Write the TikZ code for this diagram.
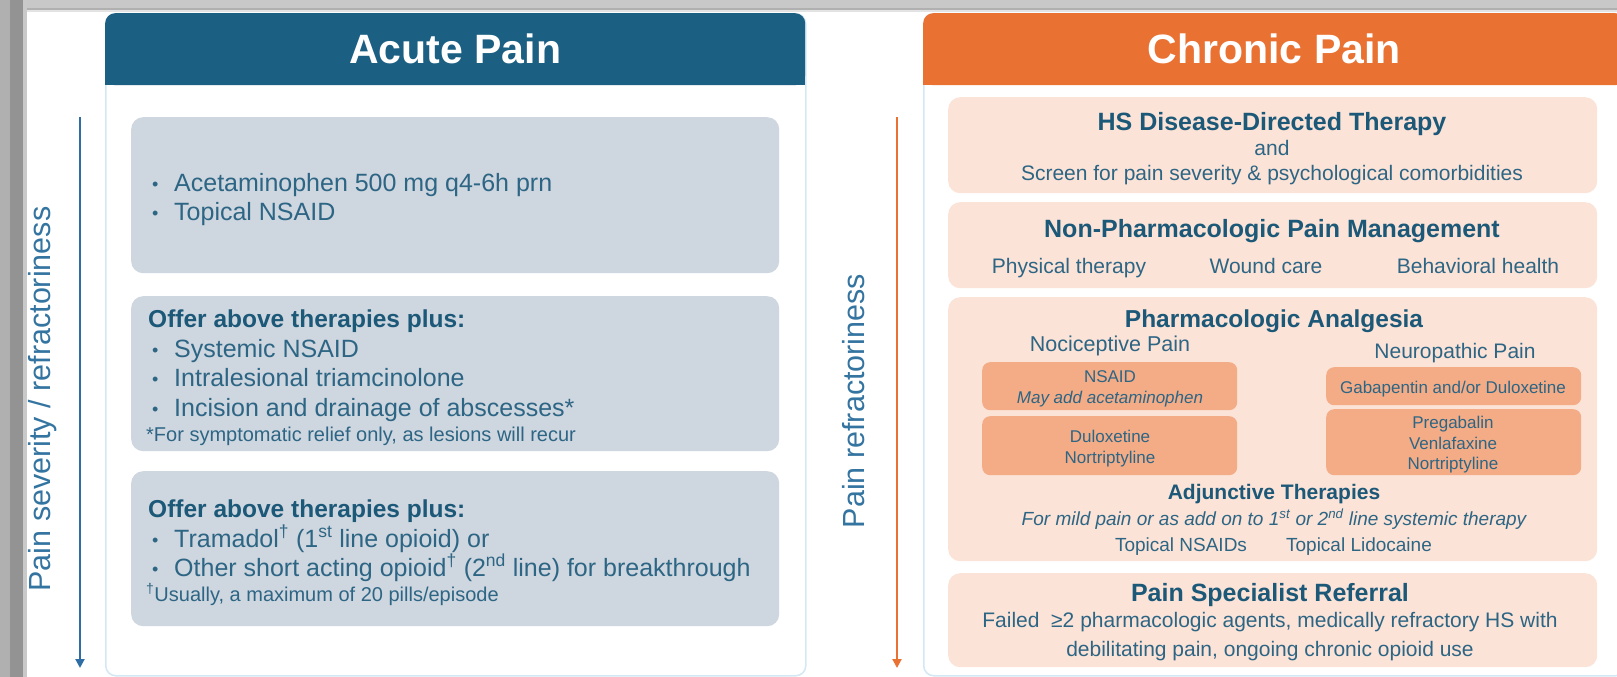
\documentclass[tikz,border=0pt]{standalone}
\usepackage{fontspec}
\setmainfont{Liberation Sans}
\usetikzlibrary{arrows.meta}
\definecolor{acuteblue}{HTML}{1B5F82}
\definecolor{chronicorange}{HTML}{E97132}
\definecolor{greybox}{HTML}{CED6DF}
\definecolor{peach}{HTML}{FCE3D7}
\definecolor{subpeach}{HTML}{F3AC86}
\definecolor{textblue}{HTML}{1C5878}
\definecolor{textreg}{HTML}{2D6584}
\definecolor{panelborder}{HTML}{D4E8F3}
\definecolor{arrowblue}{HTML}{2F6EA5}
\definecolor{labelblue}{HTML}{3474A0}
\definecolor{framelight}{HTML}{C8C8C8}
\definecolor{framemid}{HTML}{B0B0B0}
\definecolor{framedark}{HTML}{939393}
\newcommand{\fsz}[1]{\fontsize{#1}{#1}\selectfont}
\newcommand{\bul}{\makebox[22pt][l]{\fsz{18}\raisebox{1pt}{•}}}
\tikzset{
  panel/.style={draw=panelborder, line width=1.5pt, fill=white, rounded corners=10pt, inner sep=0, anchor=north west},
  hdr/.style={rounded corners=10pt, inner sep=0, anchor=north west, text=white, font=\fsz{41}\bfseries},
  gbox/.style={fill=greybox, rounded corners=12pt, inner sep=0, anchor=north west},
  pbox/.style={fill=peach, rounded corners=12pt, inner sep=0, anchor=north west},
  sbox/.style={fill=subpeach, rounded corners=8pt, inner sep=0, anchor=north west},
  txt/.style={inner sep=0, text=textreg, anchor=base west},
  ctxt/.style={inner sep=0, text=textreg, anchor=base},
  hd/.style={text=textblue, font=\fsz{25}\bfseries},
  vlab/.style={inner sep=0, rotate=90, text=labelblue, font=\fsz{30.5}},
}
\begin{document}
\begin{tikzpicture}[x=1pt,y=-1pt]
\useasboundingbox (0,0) rectangle (1617,677);
\clip (0,0) rectangle (1617,677);
\fill[white] (0,0) rectangle (1617,677);
% frame shadow
\fill[framelight] (0,0) rectangle (1617,8);
\fill[framemid] (0,8) rectangle (1617,10);
\fill[framelight!50!white] (0,10) rectangle (1617,12);
\fill[framemid] (0,0) rectangle (10,677);
\fill[framedark] (10,0) rectangle (23,677);
\fill[framedark!50!white] (23,0) rectangle (27,677);

% ---------- Acute panel ----------
\node[panel, minimum width=700, minimum height=662] (acuteP) at (105,13) {};
\fill[acuteblue] (105,70) rectangle (805,85);
\node[hdr, fill=acuteblue, minimum width=700, minimum height=72] (acuteH) at (105,13) {Acute Pain};

\node[gbox, minimum width=648, minimum height=156] (ab1) at (131,117) {};
\node[gbox, minimum width=648, minimum height=155] (ab2) at (131,296) {};
\node[gbox, minimum width=648, minimum height=155] (ab3) at (131,471) {};

\node[txt, font=\fsz{25}] (a1l1) at (152,191) {\bul Acetaminophen 500 mg q4-6h prn};
\node[txt, font=\fsz{25}] (a1l2) at (152,220) {\bul Topical NSAID};

\node[txt, hd, font=\fsz{24.5}\bfseries] (a2h) at (148,327) {Offer above therapies plus:};
\node[txt, font=\fsz{25}] (a2l1) at (152,357) {\bul Systemic NSAID};
\node[txt, font=\fsz{25}] (a2l2) at (152,386) {\bul Intralesional triamcinolone};
\node[txt, font=\fsz{25}] (a2l3) at (152,416) {\bul Incision and drainage of abscesses*};
\node[txt, font=\fsz{20}] (a2f) at (146,441) {*For symptomatic relief only, as lesions will recur};

\node[txt, hd, font=\fsz{24.5}\bfseries] (a3h) at (148,517) {Offer above therapies plus:};
\node[txt, font=\fsz{25}] (a3l1) at (152,547) {\bul Tramadol\textsuperscript{†} (1\textsuperscript{st} line opioid) or};
\node[txt, font=\fsz{25}] (a3l2) at (152,576) {\bul Other short acting opioid\textsuperscript{†} (2\textsuperscript{nd} line) for breakthrough};
\node[txt, font=\fsz{20}] (a3f) at (146,601) {\textsuperscript{†}Usually, a maximum of 20 pills/episode};

% left arrow and label
\coordinate (bA) at (80,117);
\coordinate (bB) at (80,668);
\draw[arrowblue, line width=2pt, -{Triangle[length=9pt,width=9pt]}] (bA) -- (bB);
\node[vlab] (labA) at (43,399) {Pain severity / refractoriness};

% ---------- Chronic panel ----------
\node[panel, minimum width=702, minimum height=662] (chronP) at (923,13) {};
\fill[chronicorange] (923,70) rectangle (1625,85);
\node[hdr, fill=chronicorange, minimum width=702, minimum height=72] (chronH) at (923,13) {Chronic Pain};

\node[pbox, minimum width=649, minimum height=96] (cA) at (948,97) {};
\node[pbox, minimum width=649, minimum height=86] (cB) at (948,202) {};
\node[pbox, minimum width=649, minimum height=264] (cC) at (948,297) {};
\node[pbox, minimum width=649, minimum height=94] (cD) at (948,573) {};

\node[sbox, minimum width=255, minimum height=48] (sL1) at (982,362) {};
\node[sbox, minimum width=255, minimum height=59] (sL2) at (982,416) {};
\node[sbox, minimum width=255, minimum height=38] (sR1) at (1326,367) {};
\node[sbox, minimum width=255, minimum height=66] (sR2) at (1326,409) {};

% box A
\node[ctxt, hd] (cAh) at (1272,130) {HS Disease-Directed Therapy};
\node[ctxt, font=\fsz{21}] (cAand) at (1272,155.5) {and};
\node[ctxt, font=\fsz{21}] (cAs) at (1272,180.5) {Screen for pain severity \& psychological comorbidities};
% box B
\node[ctxt, hd] (cBh) at (1272,237) {Non-Pharmacologic Pain Management};
\node[ctxt, font=\fsz{21}] (cB1) at (1069,273.5) {Physical therapy};
\node[ctxt, font=\fsz{21}] (cB2) at (1266,273.5) {Wound care};
\node[ctxt, font=\fsz{21}] (cB3) at (1478,273.5) {Behavioral health};
% box C
\node[ctxt, hd, font=\fsz{24.5}\bfseries] (cCh) at (1274,327) {Pharmacologic Analgesia};
\node[ctxt, font=\fsz{21.5}] (cCn1) at (1110,351) {Nociceptive Pain};
\node[ctxt, font=\fsz{21}] (cCn2) at (1455,358) {Neuropathic Pain};
\node[ctxt, font=\fsz{17}] (sL1a) at (1110,382) {NSAID};
\node[ctxt, font=\fsz{17}\itshape] (sL1b) at (1110,403) {May add acetaminophen};
\node[ctxt, font=\fsz{17}] (sL2a) at (1110,442) {Duloxetine};
\node[ctxt, font=\fsz{17}] (sL2b) at (1110,463) {Nortriptyline};
\node[ctxt, font=\fsz{17}] (sR1a) at (1453,393) {Gabapentin and/or Duloxetine};
\node[ctxt, font=\fsz{17}] (sR2a) at (1453,428) {Pregabalin};
\node[ctxt, font=\fsz{17}] (sR2b) at (1453,449) {Venlafaxine};
\node[ctxt, font=\fsz{17}] (sR2c) at (1453,469) {Nortriptyline};
\node[ctxt, hd, font=\fsz{21}\bfseries] (cCadj) at (1274,499.5) {Adjunctive Therapies};
\node[ctxt, font=\fsz{19}\itshape] (cCmild) at (1274,525) {For mild pain or as add on to 1\textsuperscript{st} or 2\textsuperscript{nd} line systemic therapy};
\node[ctxt, font=\fsz{19}] (cCt1) at (1181,551) {Topical NSAIDs};
\node[ctxt, font=\fsz{19}] (cCt2) at (1359,551) {Topical Lidocaine};
% box D
\node[ctxt, hd] (cDh) at (1270,601) {Pain Specialist Referral};
\node[ctxt, font=\fsz{21}] (cD1) at (1270,627.5) {Failed\ \ ≥2 pharmacologic agents, medically refractory HS with};
\node[ctxt, font=\fsz{21}] (cD2) at (1270,656.5) {debilitating pain, ongoing chronic opioid use};

% right arrow and label
\coordinate (oA) at (897,117);
\coordinate (oB) at (897,668);
\draw[chronicorange, line width=2pt, -{Triangle[length=9pt,width=9pt]}] (oA) -- (oB);
\node[vlab] (labB) at (854,401) {Pain refractoriness};
\end{tikzpicture}
\end{document}
